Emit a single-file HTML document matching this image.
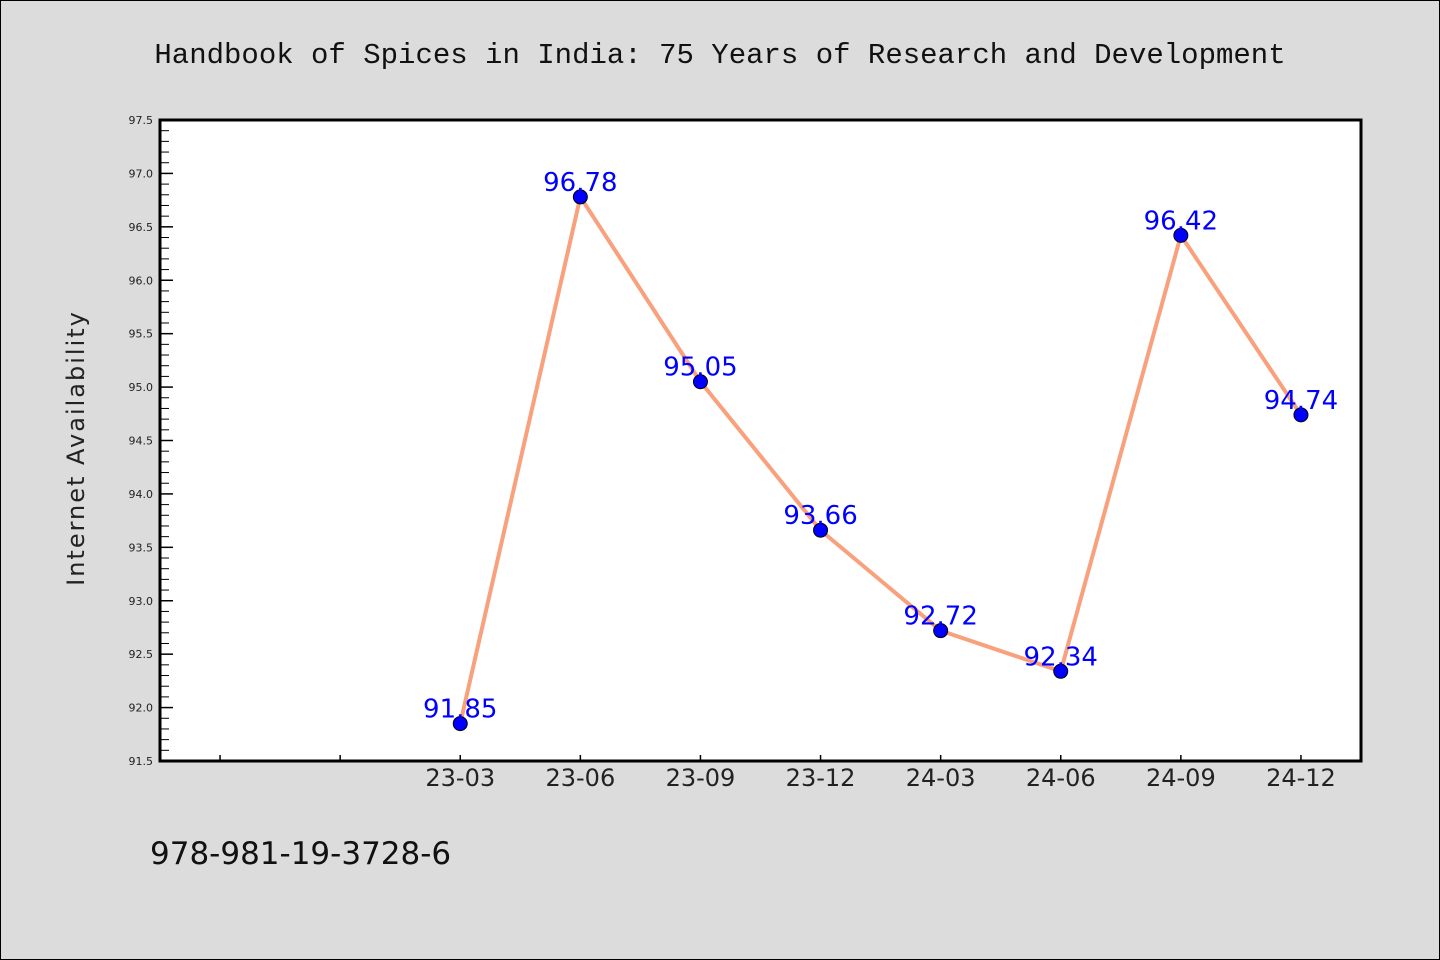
<!DOCTYPE html>
<html><head><meta charset="utf-8"><style>
body{margin:0;background:#dcdcdc;}
svg{display:block;font-family:"Liberation Mono","DejaVu Sans Mono",monospace;}
</style></head><body>
<svg width="1440" height="960">
<rect x="0.5" y="0.5" width="1439" height="959" fill="#dcdcdc" stroke="#000"/>
<text x="720" y="63" text-anchor="middle" font-size="29" fill="#111">Handbook of Spices in India: 75 Years of Research and Development</text>
<text transform="translate(84,448) rotate(-90)" text-anchor="middle" font-size="24" fill="#222" font-family="DejaVu Sans, sans-serif" letter-spacing="2">Internet Availability</text>
<text x="150" y="864" font-size="31" fill="#111" font-family="DejaVu Sans, sans-serif">978-981-19-3728-6</text>
<rect x="160" y="120" width="1201" height="641" fill="#fff" stroke="#000" stroke-width="3"/>
<g id="ticks"></g><g id="marks"></g>
</svg>
<script>
const categories=["","","23-03","23-06","23-09","23-12","24-03","24-06","24-09","24-12"];
const values=[null,null,91.85,96.78,95.05,93.66,92.72,92.34,96.42,94.74];
const yTicks=[91.5,92.0,92.5,93.0,93.5,94.0,94.5,95.0,95.5,96.0,96.5,97.0,97.5];
const NS="http://www.w3.org/2000/svg";
const L=160,R=1361,T=120,B=761,ymin=91.5,ymax=97.5;
const xs=i=>L+(R-L)/categories.length*(i+0.5);
const ys=v=>B-(v-ymin)/(ymax-ymin)*(B-T);
function mk(tag,attrs,parent){const e=document.createElementNS(NS,tag);for(const k in attrs)e.setAttribute(k,attrs[k]);parent.appendChild(e);return e;}
const tg=document.getElementById('ticks'),mg=document.getElementById('marks');
yTicks.forEach(v=>{
 const y=ys(v);
 const t=mk('line',{x1:L,x2:L+13,y1:y,y2:y,stroke:'#000','stroke-width':1.5},tg);
 
 
 const lb=mk('text',{x:153,y:y+4,'text-anchor':'end','font-size':11,fill:'#222','font-family':'DejaVu Sans, sans-serif'},tg);
 lb.textContent=v.toFixed(1);
 
 
});
for(let i=0;i<yTicks.length-1;i++){for(let k=1;k<5;k++){const v=yTicks[i]+(yTicks[i+1]-yTicks[i])*k/5;
 const m=mk('line',{x1:L,x2:L+9,y1:ys(v),y2:ys(v),stroke:'#000','stroke-width':1},tg);
 
 }}
categories.forEach((c,i)=>{
 const x=xs(i);
 const t=mk('line',{x1:x,x2:x,y1:B,y2:B-6,stroke:'#000','stroke-width':1.5},tg);
 
 
 if(c){const lb=mk('text',{x:x,y:B+25,'text-anchor':'middle','font-size':24,fill:'#222','font-family':'DejaVu Sans, sans-serif'},tg);
 lb.textContent=c;
 
 }
});
const pts=[];values.forEach((v,i)=>{if(v!=null)pts.push([xs(i),ys(v),v]);});
const line=mk('polyline',{points:pts.map(p=>p[0]+','+p[1]).join(' '),fill:'none',stroke:'#f9a07c','stroke-width':4,'stroke-linejoin':'round'},mg);


pts.forEach(p=>{
 const c=mk('circle',{cx:p[0],cy:p[1],r:7,fill:'#0000ff',stroke:'#000','stroke-width':1},mg);
 
 
 const t=mk('text',{x:p[0],y:p[1]-6,'text-anchor':'middle','font-size':26,fill:'#0000ff','font-family':'DejaVu Sans, sans-serif'},mg);
 t.textContent=p[2].toFixed(2);
 
 
});
</script>
</body></html>
